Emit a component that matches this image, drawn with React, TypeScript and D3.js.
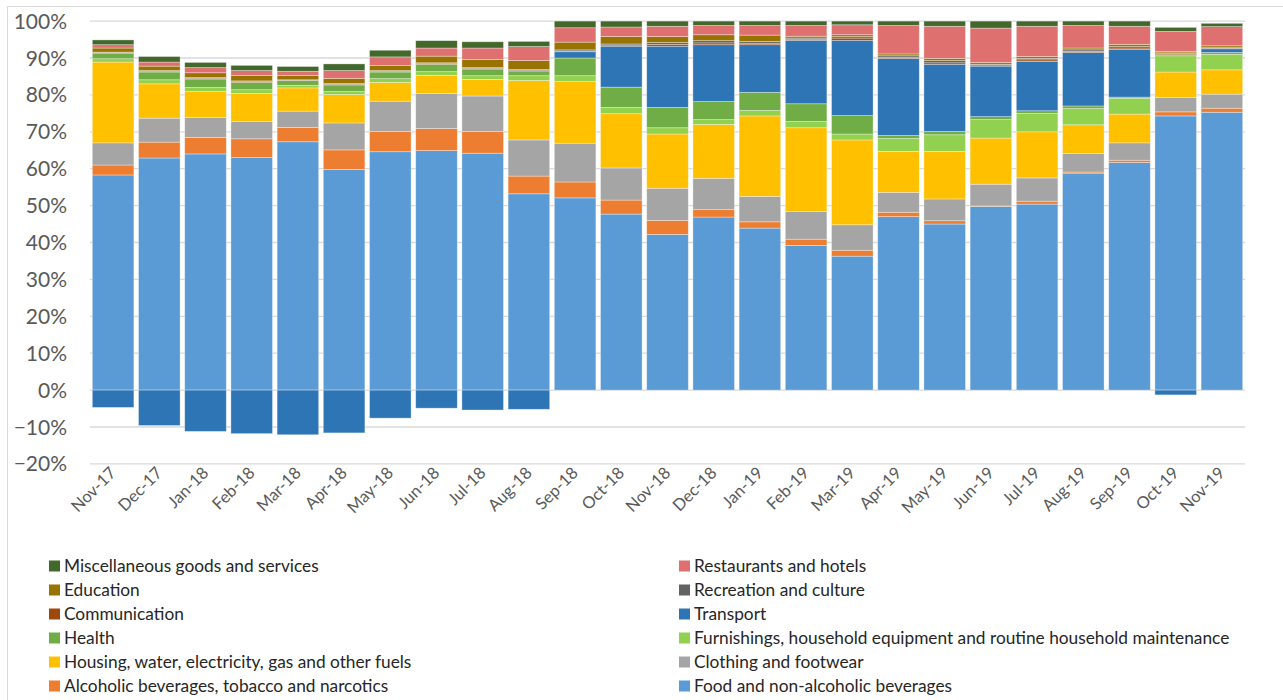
import { useRef, useEffect } from "react";
import * as d3 from "d3";

// months on the x axis
const months = [
  "Nov-17", "Dec-17", "Jan-18", "Feb-18", "Mar-18", "Apr-18", "May-18", "Jun-18", "Jul-18",
  "Aug-18", "Sep-18", "Oct-18", "Nov-18", "Dec-18", "Jan-19", "Feb-19", "Mar-19", "Apr-19",
  "May-19", "Jun-19", "Jul-19", "Aug-19", "Sep-19", "Oct-19", "Nov-19",
];

// series values (percent), bottom of the stack first
const food = [58.3, 62.9, 64.0, 63.0, 67.3, 59.8, 64.6, 64.9, 64.2, 53.2, 52.1, 47.7, 42.2, 46.9, 43.9, 39.2, 36.3, 47.0, 45.0, 49.8, 50.4, 58.8, 61.7, 74.3, 75.3];
const alcohol = [2.7, 4.3, 4.5, 5.1, 3.9, 5.3, 5.5, 6.0, 5.9, 4.8, 4.3, 3.8, 3.8, 2.0, 1.7, 1.7, 1.6, 1.2, 0.9, 0.1, 0.8, 0.3, 0.6, 1.1, 1.1];
const clothing = [6.0, 6.5, 5.4, 4.7, 4.4, 7.3, 8.2, 9.5, 9.6, 9.8, 10.5, 8.7, 8.7, 8.5, 6.9, 7.5, 6.9, 5.4, 5.9, 5.9, 6.3, 5.0, 4.7, 3.9, 3.8];
const housing = [21.9, 9.3, 7.0, 7.6, 6.3, 7.7, 5.1, 4.9, 4.5, 16.1, 16.7, 14.7, 14.7, 14.6, 21.8, 22.7, 23.0, 11.1, 12.9, 12.5, 12.5, 7.8, 7.8, 6.9, 6.6];
const furnishings = [0.9, 1.1, 1.1, 1.0, 0.7, 0.8, 1.0, 1.0, 1.0, 1.3, 1.6, 1.7, 1.7, 1.3, 1.5, 1.7, 1.6, 3.5, 4.5, 5.0, 5.0, 4.4, 4.3, 4.4, 4.2];
const health = [1.5, 2.1, 2.3, 2.0, 1.3, 1.8, 1.8, 2.0, 1.8, 1.1, 4.8, 5.5, 5.5, 4.9, 4.9, 4.8, 5.0, 0.8, 0.9, 0.8, 0.7, 0.7, 0.3, 0.3, 0.5];
const transport = [-4.7, -9.6, -11.2, -11.8, -12.1, -11.6, -7.6, -4.9, -5.4, -5.2, 1.7, 11.1, 16.6, 15.4, 12.9, 17.2, 20.4, 20.9, 18.2, 13.7, 13.4, 14.5, 12.9, -1.3, 1.0];
const communication = [0.2, 0.2, 0.2, 0.2, 0.1, 0.2, 0.2, 0.2, 0.2, 0.3, 0.2, 0.3, 0.5, 0.5, 0.4, 0.3, 0.6, 0.3, 0.4, 0.3, 0.4, 0.3, 0.4, 0.3, 0.1];
const recreation = [0.1, 0.2, 0.2, 0.2, 0.1, 0.2, 0.2, 0.2, 0.2, 0.3, 0.3, 0.3, 0.5, 0.6, 0.5, 0.3, 0.4, 0.4, 0.6, 0.2, 0.4, 0.4, 0.4, 0.2, 0.2];
const education = [1.1, 1.2, 1.3, 1.5, 1.2, 1.4, 1.4, 1.8, 2.2, 2.4, 2.1, 2.0, 1.6, 1.6, 1.7, 0.5, 0.5, 0.5, 0.6, 0.5, 0.5, 0.5, 0.6, 0.4, 0.5];
const restaurants = [0.9, 1.1, 1.4, 1.3, 1.1, 2.1, 2.3, 2.2, 3.1, 3.8, 3.9, 2.6, 2.8, 2.5, 2.6, 2.9, 2.7, 7.7, 8.7, 9.3, 8.2, 6.1, 4.9, 5.4, 5.2];
const misc = [1.3, 1.5, 1.4, 1.4, 1.3, 1.8, 1.8, 2.0, 1.7, 1.4, 1.8, 1.6, 1.4, 1.2, 1.2, 1.2, 1.0, 1.2, 1.4, 1.9, 1.4, 1.2, 1.4, 1.1, 0.9];

const seriesNames = [
  "Food and non-alcoholic beverages",
  "Alcoholic beverages, tobacco and narcotics",
  "Clothing and footwear",
  "Housing, water, electricity, gas and other fuels",
  "Furnishings, household equipment and routine household maintenance",
  "Health",
  "Transport",
  "Communication",
  "Recreation and culture",
  "Education",
  "Restaurants and hotels",
  "Miscellaneous goods and services",
];
const seriesValues = [food, alcohol, clothing, housing, furnishings, health, transport, communication, recreation, education, restaurants, misc];
const seriesColors = [
  "#5b9bd5", "#ed7d31", "#a5a5a5", "#ffc000", "#92d050", "#70ad47",
  "#2e75b6", "#9e480e", "#636363", "#997300", "#df7070", "#43682b",
];

const yTicks = [-0.2, -0.1, 0, 0.1, 0.2, 0.3, 0.4, 0.5, 0.6, 0.7, 0.8, 0.9, 1.0];

const FONT = "Lato, 'Liberation Sans', sans-serif";

export default function App() {
  const ref = useRef<SVGSVGElement>(null);

  useEffect(() => {
    if (!ref.current) return;
    const width = 1283;
    const height = 700;
    const left = 90;
    const right = 1245;
    const top = 21.1;
    const bottom = 463.9;

    const svg = d3.select(ref.current);
    svg.selectAll("*").remove();
    svg.attr("width", width).attr("height", height);

    // chart area border (only left/top edges are inside the picture)
    svg.append("path")
      .attr("d", `M7.5,${height} V6.5 H${width}`)
      .attr("fill", "none")
      .attr("stroke", "#d9d9d9")
      .attr("stroke-width", 1);

    const rows = months.map((m, i) => {
      const r: Record<string, any> = { month: m };
      seriesNames.forEach((n, k) => (r[n] = seriesValues[k][i] / 100));
      return r;
    });

    const x = d3.scaleBand().domain(months).range([left, right]).paddingInner(0.1).paddingOuter(0.05);
    const y = d3.scaleLinear().domain([-0.2, 1]).range([bottom, top]);

    // gridlines
    svg.append("g")
      .selectAll("line")
      .data(yTicks)
      .join("line")
      .attr("x1", left)
      .attr("x2", right)
      .attr("y1", (d) => y(d))
      .attr("y2", (d) => y(d))
      .attr("stroke", "#d9d9d9")
      .attr("stroke-width", 1.3);

    // y tick labels
    svg.append("g")
      .selectAll("text")
      .data(yTicks)
      .join("text")
      .attr("x", 67)
      .attr("y", (d) => y(d))
      .attr("dy", "0.36em")
      .attr("text-anchor", "end")
      .attr("font-family", FONT)
      .attr("font-size", 21)
      .attr("fill", "#595959")
      .text((d) => d3.format(".0%")(d));

    const stack = d3.stack<any>().keys(seriesNames).offset(d3.stackOffsetDiverging);
    const layers = stack(rows);

    svg.append("g")
      .selectAll("g")
      .data(layers)
      .join("g")
      .attr("fill", (_d, i) => seriesColors[i])
      .selectAll("rect")
      .data((d) => d)
      .join("rect")
      .attr("x", (d) => x(d.data.month)!)
      .attr("width", x.bandwidth())
      .attr("y", (d) => y(Math.max(d[0], d[1])))
      .attr("height", (d) => Math.abs(y(d[0]) - y(d[1])))
      .attr("stroke", "#ffffff")
      .attr("stroke-opacity", 0.45)
      .attr("stroke-width", 0.75);

    // x labels, rotated
    svg.append("g")
      .selectAll("text")
      .data(months)
      .join("text")
      .attr("transform", (d) => `translate(${x(d)! + x.bandwidth() / 2 + 4},474) rotate(-45)`)
      .attr("text-anchor", "end")
      .attr("font-family", FONT)
      .attr("font-size", 16.5)
      .attr("fill", "#595959")
      .text((d) => d);

    // legend in two columns, reversed series order
    const legendItems = seriesNames.map((n, i) => ({ name: n, color: seriesColors[i] })).reverse();
    const lg = svg.append("g");
    legendItems.forEach((it, i) => {
      const col = i % 2;
      const row = Math.floor(i / 2);
      const lx = col === 0 ? 49 : 679;
      const ly = 566 + row * 24;
      lg.append("rect")
        .attr("x", lx)
        .attr("y", ly - 5.5)
        .attr("width", 11)
        .attr("height", 11)
        .attr("fill", it.color);
      lg.append("text")
        .attr("x", lx + 15)
        .attr("y", ly)
        .attr("dy", "0.36em")
        .attr("font-family", FONT)
        .attr("font-size", 17.3)
        .attr("fill", "#262626")
        .text(it.name);
    });
  }, []);

  return (
    <div style={{ position: "absolute", left: 0, top: 0 }}>
      <svg ref={ref}></svg>
    </div>
  );
}
